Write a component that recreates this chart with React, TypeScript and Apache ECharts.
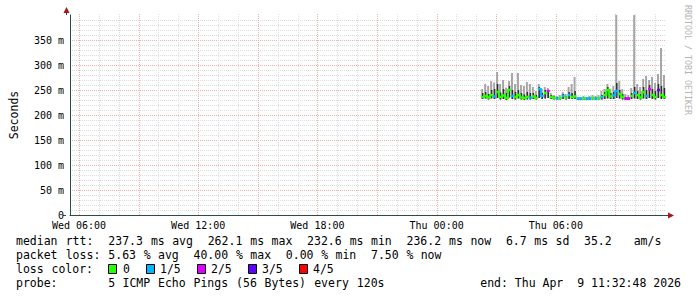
import React, { useEffect, useRef } from 'react';
import * as echarts from 'echarts';

// ---- axis / time frame (hours since Wed 00:00) ----
const X_MIN_H = 5.5467; // Wed 05:32:48
const X_MAX_H = 35.5467; // Thu 11:32:48
const X_LABEL_HOURS = [6, 12, 18, 24, 30];
const Y_MAX = 400;

// ---- samples (one every 9 minutes) ----
const SAMPLE_START_H = 26.32;
const SAMPLE_STEP_H = 0.15;

const MEDIAN = [
  236, 238, 235, 240, 237, 246, 236, 239, 234, 250,
  238, 236, 240, 235, 234, 236, 235, 237, 234, 252,
  238, 244, 248, 236, 234, 233, 234, 238, 235, 240,
  236, 237, 233, 233, 233, 233, 233, 234, 233, 234,
  236, 240, 250, 237, 239, 248, 242, 236, 233, 233,
  238, 244, 240, 235, 246, 238, 252, 240, 236, 250,
  240, 236,
];
const SMOKE_LO = [
  232, 233, 231, 233, 232, 234, 231, 232, 230, 235,
  232, 231, 233, 231, 230, 231, 231, 232, 231, 234,
  232, 233, 234, 232, 231, 231, 231, 232, 231, 232,
  232, 232, 230, 230, 230, 230, 230, 231, 230, 231,
  231, 232, 233, 232, 232, 234, 233, 231, 230, 230,
  232, 233, 232, 231, 233, 232, 234, 232, 231, 234,
  232, 232,
];
const SMOKE_HI = [
  252, 262, 258, 268, 265, 286, 262, 270, 255, 268,
  284, 262, 284, 260, 258, 266, 262, 256, 248, 262,
  252, 256, 254, 244, 240, 238, 240, 246, 242, 256,
  262, 276, 236, 236, 238, 236, 238, 240, 238, 240,
  248, 252, 262, 252, 258, 520, 268, 252, 242, 240,
  254, 490, 262, 256, 272, 278, 270, 276, 264, 282,
  334, 280,
];
const SMOKE_CORE = [
  244, 246, 242, 250, 252, 262, 245, 252, 244, 258,
  250, 246, 250, 244, 241, 246, 244, 244, 240, 256,
  244, 250, 250, 240, 237, 236, 236, 242, 238, 246,
  244, 248, 234, 234, 235, 234, 235, 236, 235, 236,
  240, 246, 256, 244, 246, 264, 250, 242, 236, 235,
  244, 256, 248, 242, 256, 250, 260, 252, 248, 262,
  258, 254,
];
const LOSS = [
  0, 0, 0, 0, 1, 0, 0, 0, 0, 0,
  1, 0, 0, 0, 0, 0, 1, 0, 0, 1,
  1, 0, 2, 0, 0, 1, 0, 1, 0, 1,
  0, 0, 1, 1, 0, 1, 1, 0, 1, 0,
  1, 0, 0, 0, 1, 1, 0, 0, 2, 2,
  0, 1, 0, 0, 0, 1, 2, 0, 0, 3,
  0, 0,
];

const LOSS_LABELS = ['0', '1/5', '2/5', '3/5', '4/5'];
const LOSS_COLORS = ['#26ff00', '#00b8ff', '#dd00ff', '#5e00ff', '#ff0000'];

const STATS_LINE_1 = 'median rtt:  237.3 ms avg  262.1 ms max  232.6 ms min  236.2 ms now  6.7 ms sd  35.2   am/s';
const STATS_LINE_2 = 'packet loss: 5.63 % avg  40.00 % max  0.00 % min  7.50 % now';
const LOSS_TITLE = 'loss color:';
const PROBE_LINE = 'probe:       5 ICMP Echo Pings (56 Bytes) every 120s';
const END_LINE = 'end: Thu Apr  9 11:32:48 2026';
const WATERMARK = 'RRDTOOL / TOBI OETIKER';

const MONO = "'DejaVu Sans Mono', monospace";
const MINOR_GRID = '#dcdcdc';
const MAJOR_GRID = '#ecb0b0';
const AXIS_COLOR = '#2c4d43';
const ARROW_COLOR = '#a01818';

const LEFT = 16;
const CHAR_W = 7.1;

function tokens(line: string, y: number): any[] {
  const out: any[] = [];
  const re = /\S+/g;
  let m: RegExpExecArray | null;
  while ((m = re.exec(line)) !== null) {
    out.push({
      type: 'text',
      x: LEFT + m.index * CHAR_W,
      y,
      silent: true,
      style: {
        text: m[0],
        fontFamily: 'DejaVu Sans Mono',
        fontSize: 11.5,
        fill: '#000',
        textAlign: 'left',
        textVerticalAlign: 'middle',
      },
    });
  }
  return out;
}

function dayLabel(h: number): string {
  const day = h < 24 ? 'Wed' : 'Thu';
  const hh = Math.round(h % 24);
  return `${day} ${String(hh).padStart(2, '0')}:00`;
}

export default function App() {
  const ref = useRef<HTMLDivElement>(null);

  useEffect(() => {
    if (!ref.current) return;
    const chart = echarts.init(ref.current, undefined, { renderer: 'svg' });

    const gridHours: number[] = [];
    for (let h = Math.ceil(X_MIN_H); h <= Math.floor(X_MAX_H); h++) gridHours.push(h);

    const sampleData = MEDIAN.map((m, i) => [
      SAMPLE_START_H + i * SAMPLE_STEP_H,
      m,
      SMOKE_LO[i],
      SMOKE_HI[i],
      SMOKE_CORE[i],
    ]);

    const graphics: any[] = [];
    graphics.push(...tokens(STATS_LINE_1, 241));
    graphics.push(...tokens(STATS_LINE_2, 255));
    graphics.push(...tokens(LOSS_TITLE, 269));
    graphics.push(...tokens(PROBE_LINE, 283));
    graphics.push({
      type: 'text',
      x: 681,
      y: 283,
      silent: true,
      style: {
        text: END_LINE,
        fontFamily: 'DejaVu Sans Mono',
        fontSize: 11.5,
        fill: '#000',
        textAlign: 'right',
        textVerticalAlign: 'middle',
      },
    });
    const boxX = [108, 146, 197, 248, 299];
    const textX = [123, 160, 211, 262, 313];
    LOSS_LABELS.forEach((lab, i) => {
      graphics.push({
        type: 'rect',
        silent: true,
        shape: { x: boxX[i] + 0.5, y: 264.5, width: 8, height: 9 },
        style: { fill: LOSS_COLORS[i], stroke: '#000', lineWidth: 1 },
      });
      graphics.push({
        type: 'text',
        x: textX[i],
        y: 269,
        silent: true,
        style: {
          text: lab,
          fontFamily: 'DejaVu Sans Mono',
          fontSize: 11.5,
          fill: '#000',
          textAlign: 'left',
          textVerticalAlign: 'middle',
        },
      });
    });
    // watermark
    graphics.push({
      type: 'text',
      x: 688,
      y: 5,
      rotation: -Math.PI / 2,
      silent: true,
      style: {
        text: WATERMARK,
        fontFamily: 'DejaVu Sans Mono',
        fontSize: 8.3,
        fill: '#b4b4b4',
        textAlign: 'left',
        textVerticalAlign: 'middle',
      },
    });
    // axis arrows
    graphics.push({
      type: 'line',
      silent: true,
      shape: { x1: 66.5, y1: 15, x2: 66.5, y2: 10 },
      style: { stroke: AXIS_COLOR, lineWidth: 1 },
    });
    graphics.push({
      type: 'polygon',
      silent: true,
      shape: { points: [[63.5, 13], [69.5, 13], [66.5, 7]] },
      style: { fill: ARROW_COLOR },
    });
    graphics.push({
      type: 'line',
      silent: true,
      shape: { x1: 63, y1: 215.5, x2: 66, y2: 215.5 },
      style: { stroke: AXIS_COLOR, lineWidth: 1 },
    });
    graphics.push({
      type: 'line',
      silent: true,
      shape: { x1: 666, y1: 215.5, x2: 670, y2: 215.5 },
      style: { stroke: AXIS_COLOR, lineWidth: 1 },
    });
    graphics.push({
      type: 'polygon',
      silent: true,
      shape: { points: [[668, 212.5], [668, 218.5], [674, 215.5]] },
      style: { fill: ARROW_COLOR },
    });

    const option: any = {
      animation: false,
      backgroundColor: '#ffffff',
      grid: { left: 66, top: 15, width: 600, height: 200, containLabel: false },
      xAxis: {
        type: 'value',
        min: X_MIN_H,
        max: X_MAX_H,
        axisLine: { show: true, onZero: false, lineStyle: { color: AXIS_COLOR, width: 1 } },
        axisTick: { show: false },
        splitLine: { show: false },
        axisLabel: {
          customValues: X_LABEL_HOURS,
          formatter: (v: number) => dayLabel(v),
          fontFamily: MONO,
          fontSize: 10,
          color: '#000000',
          margin: 5,
        },
      },
      yAxis: {
        type: 'value',
        min: 0,
        max: Y_MAX,
        interval: 50,
        name: 'Seconds',
        nameLocation: 'middle',
        nameRotate: 90,
        nameGap: 50,
        nameTextStyle: { fontFamily: MONO, fontSize: 11.5, color: '#000' },
        axisLine: { show: true, lineStyle: { color: AXIS_COLOR, width: 1 } },
        axisTick: { show: false },
        axisLabel: {
          formatter: (v: number) => (v === 0 ? '0' : v >= Y_MAX ? '' : `${v} m`),
          fontFamily: MONO,
          fontSize: 10,
          color: '#000000',
          margin: 6,
        },
        splitLine: {
          show: true,
          showMinLine: false,
          showMaxLine: false,
          lineStyle: { color: MAJOR_GRID, type: [1, 1], width: 1 },
        },
        minorTick: { show: false, splitNumber: 5 },
        minorSplitLine: { show: true, lineStyle: { color: MINOR_GRID, type: [1, 1], width: 1 } },
      },
      graphic: graphics,
      series: [
        {
          type: 'custom',
          name: 'vgrid',
          z: 1,
          silent: true,
          data: gridHours.map((h) => [h, 0]),
          renderItem: (params: any, api: any) => {
            const h = api.value(0);
            const p0 = api.coord([h, 0]);
            const p1 = api.coord([h, Y_MAX]);
            const x = Math.round(p0[0]) + 0.5;
            const major = Math.round(h) % 3 === 0;
            return {
              type: 'line',
              shape: { x1: x, y1: p0[1], x2: x, y2: p1[1] - 2 },
              style: { stroke: major ? MAJOR_GRID : MINOR_GRID, lineWidth: 1, lineDash: [1, 1] },
            };
          },
        },
        {
          type: 'custom',
          name: 'smoke',
          z: 2,
          silent: true,
          data: sampleData,
          renderItem: (params: any, api: any) => {
            const t = api.value(0);
            const lo = api.coord([t, api.value(2)]);
            const hi = api.coord([t, api.value(3)]);
            const core = api.coord([t, api.value(4)]);
            const w = api.size([SAMPLE_STEP_H, 0])[0];
            const cs = params.coordSys;
            const top = Math.max(hi[1], cs.y);
            return {
              type: 'group',
              children: [
                {
                  type: 'rect',
                  shape: { x: lo[0] - w / 2, y: top, width: w - 1, height: lo[1] - top },
                  style: { fill: '#a6a6a6' },
                },
                {
                  type: 'rect',
                  shape: { x: lo[0] - 0.75, y: core[1], width: 1.5, height: lo[1] - core[1] },
                  style: { fill: '#2e2e2e' },
                },
              ],
            };
          },
        },
        {
          type: 'custom',
          name: 'median',
          z: 3,
          silent: true,
          data: sampleData,
          renderItem: (params: any, api: any) => {
            const i = params.dataIndex;
            const t = api.value(0);
            const p = api.coord([t, api.value(1)]);
            const w = api.size([SAMPLE_STEP_H, 0])[0];
            const color = LOSS_COLORS[LOSS[i]];
            const children: any[] = [
              {
                type: 'rect',
                shape: { x: p[0] - w / 2, y: p[1] - 1.25, width: w, height: 2.5 },
                style: { fill: color },
              },
            ];
            if (i + 1 < MEDIAN.length && LOSS[i + 1] === LOSS[i]) {
              const q = api.coord([t + SAMPLE_STEP_H, MEDIAN[i + 1]]);
              const y0 = Math.min(p[1], q[1]) - 1;
              const y1 = Math.max(p[1], q[1]) + 1;
              children.push({
                type: 'rect',
                shape: { x: p[0] + w / 2 - 1, y: y0, width: 2, height: y1 - y0 },
                style: { fill: color },
              });
            }
            return { type: 'group', children };
          },
        },
      ],
    };

    chart.setOption(option);
    return () => chart.dispose();
  }, []);

  return (
    <div
      ref={ref}
      style={{ position: 'fixed', left: 0, top: 0, width: 697, height: 297, background: '#fff' }}
    />
  );
}
